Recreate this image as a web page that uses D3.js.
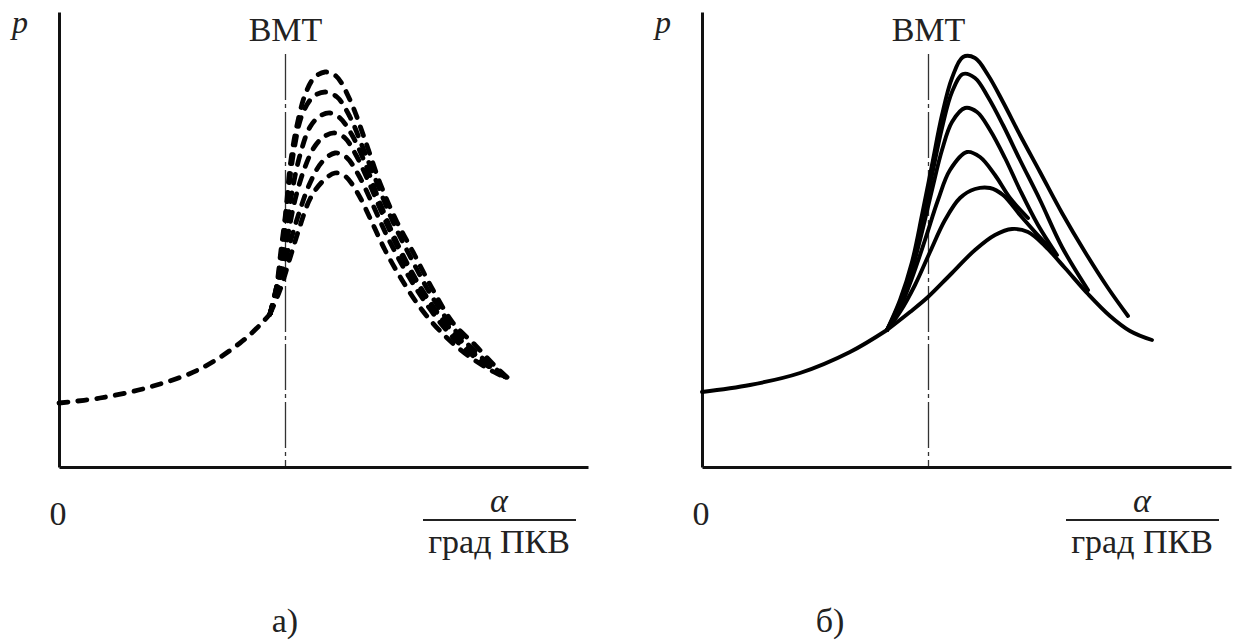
<!DOCTYPE html>
<html><head><meta charset="utf-8">
<script src="https://cdn.jsdelivr.net/npm/d3@7"></script>
<style>
body{margin:0;background:#fff}
text{font-family:"Liberation Serif","Times New Roman",serif;fill:#222}
</style>
</head><body>
<svg id="c" width="1236" height="642"></svg>
<script>
// ---- data (arbitrary units: alpha 0..106, p 0..91) ----
const bmtAngle = 45.3;
const panelLabels = ["а)", "б)"];
const yLabel = "p";
const bmtLabel = "ВМТ";
const originLabel = "0";
const xLabelTop = "α";
const xLabelBottom = "град ПКВ";

// panel a) : common compression branch (dashed)
const baseA = [[0,12.8],[8.2,13.8],[18.2,16.0],[28.2,19.6],[36.2,24.8],[40.2,28.4],[42.2,30.6]];
const curveA1 = [[42.2,30.6],[43.4,35.4],[44.4,43.4],[45.4,51.4],[46.2,60.0],[47.4,67.4],[49.2,74.4],[51.0,77.8],[53.2,79.0],[55.4,78.2],[58.2,73.4],[61.2,65.4],[64.2,56.8],[67.4,49.4],[70.8,43.0],[74.8,35.4],[78.8,28.8],[83.2,24.4],[87.2,20.2],[90.0,17.6]];
const curveA2 = [[42.2,30.6],[43.6,36.4],[44.8,45.4],[45.8,54.4],[47.0,63.4],[48.6,70.4],[50.8,74.0],[53.2,75.0],[55.6,74.0],[58.2,70.0],[60.8,63.8],[63.6,56.8],[66.8,49.0],[70.4,41.8],[74.4,34.4],[79.2,27.4],[84.2,22.2],[90.0,17.6]];
const curveA3 = [[42.2,30.6],[43.8,37.4],[45.2,45.4],[46.6,55.0],[48.2,62.4],[50.2,68.0],[52.2,70.2],[54.2,70.8],[56.2,69.8],[58.6,66.4],[61.2,60.8],[64.2,52.8],[67.8,44.4],[71.8,36.8],[76.2,30.2],[81.2,24.4],[86.2,20.0],[90.0,17.6]];
const curveA4 = [[42.2,30.6],[44.0,37.4],[45.6,45.4],[47.2,53.4],[49.2,60.0],[51.2,64.2],[53.2,66.2],[55.2,66.8],[57.2,65.8],[59.4,62.4],[62.2,56.4],[65.2,49.4],[68.6,42.2],[72.6,35.2],[77.2,28.8],[82.2,23.4],[86.6,19.8],[90.0,17.6]];
const curveA5 = [[42.2,30.6],[44.2,37.4],[46.2,44.8],[48.2,51.4],[50.2,56.8],[52.6,61.0],[55.2,62.8],[57.4,62.0],[59.8,58.6],[62.6,52.8],[65.8,45.8],[69.2,39.4],[73.2,33.0],[77.8,27.0],[82.6,22.4],[87.0,19.4],[90.0,17.6]];
const curveA6 = [[42.2,30.6],[44.2,35.4],[46.2,41.8],[48.2,48.2],[50.2,53.6],[52.6,57.0],[55.2,58.8],[57.2,58.2],[59.6,55.0],[62.2,49.8],[65.2,43.4],[68.6,37.4],[72.6,31.4],[77.2,26.2],[82.2,22.0],[87.0,19.0],[90.0,17.6]];

// panel б) : solid
const baseB = [[0,15.0],[9.6,16.4],[19.6,18.8],[29.6,23.0],[37.0,27.4]];
const curveB1 = [[37.0,27.4],[39.6,33.4],[42.0,41.0],[44.0,50.4],[46.0,60.4],[48.0,70.4],[50.0,77.8],[52.2,82.0],[54.6,81.8],[57.2,78.4],[60.2,73.0],[63.6,66.4],[67.6,59.0],[72.0,50.8],[76.6,43.0],[81.2,35.8],[85.2,30.2]];
const curveB2 = [[37.0,27.4],[39.6,33.0],[42.0,40.4],[44.0,49.0],[46.0,58.4],[48.0,67.8],[50.0,75.0],[52.2,78.6],[54.6,77.8],[57.2,74.0],[60.2,68.4],[63.6,61.4],[67.6,53.4],[72.0,44.0],[77.2,35.4]];
const curveB3 = [[37.0,27.4],[39.6,32.4],[42.0,39.4],[44.0,47.0],[46.0,55.4],[48.0,63.4],[50.0,69.0],[52.6,71.8],[55.0,71.0],[57.6,67.4],[60.6,61.8],[63.6,55.4],[67.2,48.4],[71.0,42.4]];
const curveB4 = [[37.0,27.4],[39.6,31.8],[42.0,37.8],[44.6,45.4],[47.2,53.4],[49.6,59.4],[53.0,63.0],[55.6,62.0],[58.6,58.4],[61.6,53.8],[65.2,49.8]];
const curveB5 = [[37.0,27.4],[39.6,31.0],[42.6,36.4],[45.6,43.0],[48.6,49.4],[51.6,53.8],[54.6,55.6],[57.6,55.8],[60.2,54.4],[63.6,50.4],[66.6,47.0],[69.6,43.8]];
const curveB6 = [[37.0,27.4],[41.6,31.0],[45.2,34.0],[49.6,38.4],[54.6,43.4],[58.6,46.4],[62.0,47.6],[65.2,47.0],[68.6,44.2],[72.6,39.8],[77.2,34.6],[81.6,30.2],[85.6,27.2],[90.0,25.4]];

// ---- drawing ----
const svg = d3.select("#c");
const panels = [
  {x0:59,  base:baseA, curves:[curveA1,curveA2,curveA3,curveA4,curveA5,curveA6], dashed:true,  label:panelLabels[0], labelX:285},
  {x0:702, base:baseB, curves:[curveB1,curveB2,curveB3,curveB4,curveB5,curveB6], dashed:false, label:panelLabels[1], labelX:830}
];
const y = d3.scaleLinear().domain([0,91]).range([467,12]);

panels.forEach(P => {
  const x = d3.scaleLinear().domain([0,106]).range([P.x0, P.x0+530]);
  const g = svg.append("g");
  const line = d3.line().x(d=>x(d[0])).y(d=>y(d[1])).curve(d3.curveCatmullRom.alpha(0.5));

  // BMT dash-dot line
  g.append("line").attr("x1",x(bmtAngle)).attr("x2",x(bmtAngle))
   .attr("y1",y(82.6)).attr("y2",y(0))
   .attr("stroke","#333").attr("stroke-width",1.3)
   .attr("stroke-dasharray","46,4,4,4");

  // axes
  const ax = g.append("g").attr("transform",`translate(${P.x0},0)`)
    .call(d3.axisLeft(y).tickValues([]).tickSizeOuter(0));
  const bx = g.append("g").attr("transform",`translate(0,${y(0)})`)
    .call(d3.axisBottom(x.copy().domain([0,105.8]).range([P.x0, P.x0+529])).tickValues([]).tickSizeOuter(0));
  [ax,bx].forEach(a=>a.select(".domain").attr("stroke","#111").attr("stroke-width",3));

  const style = sel => {
    sel.attr("fill","none").attr("stroke","#000");
    if (P.dashed) sel.attr("stroke-width",4.8).attr("stroke-dasharray","9,10").attr("stroke-linecap","round");
    else sel.attr("stroke-width",3.9).attr("stroke-linecap","round").attr("stroke-linejoin","round");
  };
  g.append("path").attr("d",line(P.base)).call(style);
  P.curves.forEach(c => g.append("path").attr("d",line(c)).call(style));

  // texts
  g.append("text").attr("x",P.x0-47).attr("y",33).attr("font-size",32).attr("font-style","italic").text(yLabel);
  g.append("text").attr("x",x(bmtAngle)).attr("y",41).attr("font-size",34).attr("text-anchor","middle").text(bmtLabel);
  g.append("text").attr("x",P.x0-1).attr("y",525).attr("font-size",34).attr("text-anchor","middle").text(originLabel);
  const fx = P.x0 + 440;
  g.append("text").attr("x",fx).attr("y",512).attr("font-size",34).attr("font-style","italic").attr("text-anchor","middle").text(xLabelTop);
  g.append("line").attr("x1",P.x0+364).attr("x2",P.x0+517).attr("y1",520).attr("y2",520).attr("stroke","#222").attr("stroke-width",2);
  g.append("text").attr("x",fx).attr("y",553).attr("font-size",34).attr("text-anchor","middle").text(xLabelBottom);
  g.append("text").attr("x",P.labelX).attr("y",632).attr("font-size",34).attr("text-anchor","middle").text(P.label);
});
</script>
</body></html>
